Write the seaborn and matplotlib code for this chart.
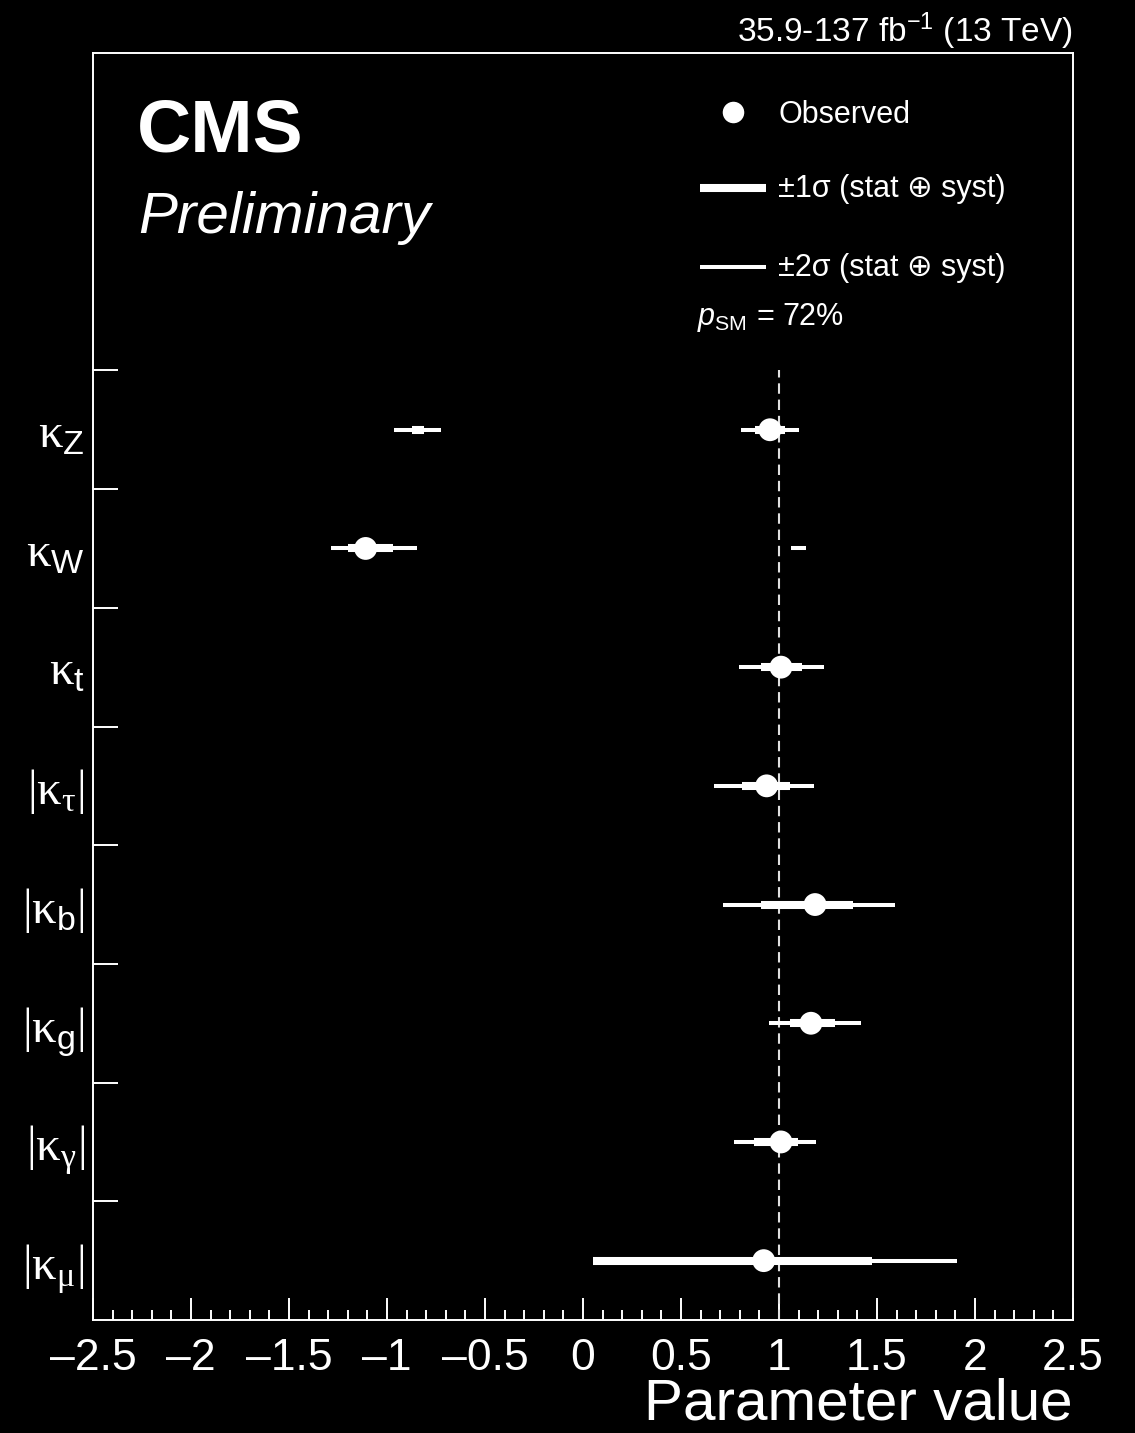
import numpy as np
import pandas as pd
import matplotlib
matplotlib.use("Agg")
import matplotlib.pyplot as plt
import seaborn as sns
from matplotlib.lines import Line2D

# ---------------- data ----------------
params = ["kZ", "kW", "kt", "ktau", "kb", "kg", "kgamma", "kmu"]
labels = [r"$\mathrm{\kappa}_{\mathsf{Z}}$",
          r"$\mathrm{\kappa}_{\mathsf{W}}$",
          r"$\mathrm{\kappa}_{\mathsf{t}}$",
          r"$|\mathrm{\kappa}_{\mathrm{\tau}}|$",
          r"$|\mathrm{\kappa}_{\mathsf{b}}|$",
          r"$|\mathrm{\kappa}_{\mathsf{g}}|$",
          r"$|\mathrm{\kappa}_{\mathrm{\gamma}}|$",
          r"$|\mathrm{\kappa}_{\mathrm{\mu}}|$"]
best = [0.954, -1.109, 1.010, 0.937, 1.184, 1.163, 1.010, 0.922]
lo1 = [0.880, -1.197, 0.908, 0.813, 0.908, 1.056, 0.874, 0.049]
hi1 = [1.030, -0.971, 1.119, 1.056, 1.379, 1.286, 1.099, 1.474]
lo2 = [0.806, -1.286, 0.796, 0.667, 0.713, 0.951, 0.770, 0.049]
hi2 = [1.100, -0.849, 1.228, 1.180, 1.590, 1.418, 1.190, 1.908]

# secondary (disjoint) intervals
sec_params = ["kZ", "kW"]
sec_lo1 = [-0.874, np.nan]
sec_hi1 = [-0.811, np.nan]
sec_lo2 = [-0.963, 1.061]
sec_hi2 = [-0.724, 1.136]

xticks = [-2.5, -2, -1.5, -1, -0.5, 0, 0.5, 1, 1.5, 2, 2.5]
sm_value = 1.0

# ---------------- style ----------------
sns.set_style("white")
plt.rcParams.update({
    "font.family": ["Liberation Sans", "DejaVu Sans"],
    "mathtext.fontset": "custom",
    "mathtext.rm": "Liberation Serif",
    "mathtext.sf": "Liberation Sans",
    "mathtext.it": "Liberation Sans:italic",
    "mathtext.bf": "Liberation Sans:bold",
    "figure.facecolor": "black",
    "axes.facecolor": "black",
    "axes.edgecolor": "white",
    "text.color": "white",
    "xtick.color": "white",
    "ytick.color": "white",
    "axes.labelcolor": "white",
})

W, H = 1135, 1433
fig = plt.figure(figsize=(W / 100, H / 100), dpi=100)
ax = fig.add_axes([93 / W, 1 - 1320 / H, 980 / W, 1267 / H])

n = len(params)
pos = np.arange(n)[::-1] + 0.5
df = pd.DataFrame({"param": params, "pos": pos, "best": best,
                   "lo1": lo1, "hi1": hi1, "lo2": lo2, "hi2": hi2})
pos_map = dict(zip(params, pos))
sec = pd.DataFrame({"param": sec_params, "lo1": sec_lo1, "hi1": sec_hi1,
                    "lo2": sec_lo2, "hi2": sec_hi2})
sec["pos"] = sec["param"].map(pos_map)

# SM reference line
ax.vlines(sm_value, 0, n, colors="#e0e0e0", lw=1.5,
          linestyles=(0, (5.0, 2.8)), zorder=1)

# 2 sigma (thin) and 1 sigma (thick)
ax.hlines(df["pos"], df["lo2"], df["hi2"], colors="white", lw=2.9, zorder=3)
ax.hlines(df["pos"], df["lo1"], df["hi1"], colors="white", lw=5.8, zorder=4)
s2 = sec.dropna(subset=["lo2"])
ax.hlines(s2["pos"], s2["lo2"], s2["hi2"], colors="white", lw=2.9, zorder=3)
s1 = sec.dropna(subset=["lo1"])
ax.hlines(s1["pos"], s1["lo1"], s1["hi1"], colors="white", lw=5.8, zorder=4)

sns.scatterplot(data=df, x="best", y="pos", ax=ax, s=270, color="white",
                edgecolor="none", linewidth=0, zorder=5, legend=False)

ax.set_xlim(-2.5, 2.5)
ax.set_ylim(0, 1267 / 118.7)
ax.set_xticks(xticks)
ax.set_xticklabels([("\u2013" if v < 0 else "") + f"{abs(v):g}" for v in xticks])
ax.set_xticks(np.arange(-2.5, 2.5001, 0.1), minor=True)
ax.set_yticks(pos)
ax.set_yticklabels(labels)
ax.set_yticks(np.arange(1, n + 1), minor=True)
ax.set_xlabel("")
ax.set_ylabel("")

ax.tick_params(axis="x", which="major", direction="in", length=16, width=1.4,
               labelsize=32, pad=13, bottom=True, top=False)
ax.tick_params(axis="x", which="minor", direction="in", length=7.5, width=1.4,
               bottom=True, top=False)
ax.tick_params(axis="y", which="major", length=0, labelsize=35, pad=6, left=True)
ax.tick_params(axis="y", which="minor", direction="in", length=18, width=1.4,
               left=True, right=False)
for sp in ax.spines.values():
    sp.set_color("white")
    sp.set_linewidth(1.4)

def fx(px):
    return px / W

def fy(py):
    return 1 - py / H

# texts
fig.text(fx(1073), fy(1419), "Parameter value", ha="right", va="baseline",
         fontsize=42)
fig.text(fx(1073), fy(42), r"35.9-137 fb$^{\mathsf{-1}}$ (13 TeV)", ha="right",
         va="baseline", fontsize=24)
fig.text(fx(137), fy(151), "CMS", ha="left", va="baseline", fontsize=54,
         fontweight="bold")
fig.text(fx(138), fy(233), "Preliminary", ha="left", va="baseline", fontsize=42,
         fontstyle="italic")

# legend
fig.add_artist(Line2D([fx(733)], [fy(112)], marker="o", ms=15.5, color="white",
                      mec="none", ls="none", transform=fig.transFigure))
fig.text(fx(779), fy(123), "Observed", ha="left", va="baseline", fontsize=22)
fig.add_artist(Line2D([fx(700), fx(766)], [fy(188), fy(188)], lw=5.8,
                      color="white", solid_capstyle="butt",
                      transform=fig.transFigure))
fig.text(fx(778), fy(197), "\u00b11\u03c3 (stat \u2295 syst)", ha="left",
         va="baseline", fontsize=22)
fig.add_artist(Line2D([fx(700), fx(766)], [fy(267), fy(267)], lw=2.9,
                      color="white", solid_capstyle="butt",
                      transform=fig.transFigure))
fig.text(fx(778), fy(276), "\u00b12\u03c3 (stat \u2295 syst)", ha="left",
         va="baseline", fontsize=22)
fig.text(fx(697), fy(325), r"$\mathit{p}_{\mathsf{SM}}$ = 72%", ha="left",
         va="baseline", fontsize=22)

fig.savefig("out.png", dpi=100, facecolor="black")
